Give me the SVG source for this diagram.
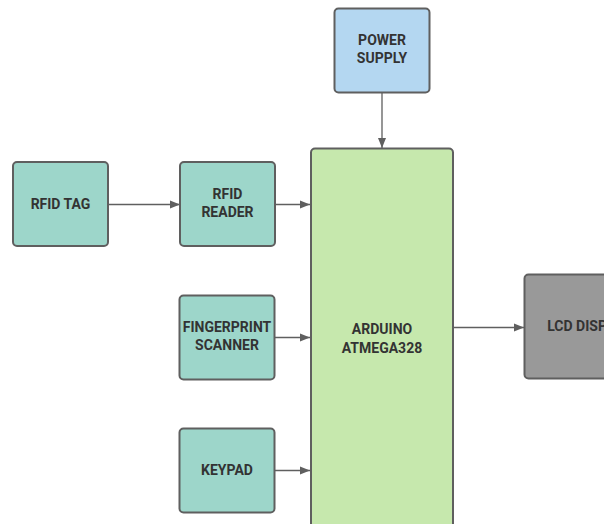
<svg xmlns="http://www.w3.org/2000/svg" width="604" height="524" viewBox="0 0 604 524">
<style>
.n{stroke:#5f5f5f;stroke-width:2}
.teal{fill:#9dd6ca}
.blue{fill:#b4d7f1}
.green{fill:#c6e8ad}
.gray{fill:#999999}
.t{font-family:Roboto,"Liberation Sans",Arial,sans-serif;font-weight:bold;font-size:14px;fill:#333333;text-anchor:middle}
.c{stroke:#5f5f5f;stroke-width:1.3;fill:none;marker-end:url(#ah)}
</style>
<defs>
<marker id="ah" viewBox="0 0 10 10" refX="10" refY="5" markerWidth="10" markerHeight="10" markerUnits="userSpaceOnUse" orient="auto">
<path d="M0,1 L10,5 L0,9 Z" fill="#5f5f5f"/>
</marker>
</defs>
<rect width="604" height="524" fill="#ffffff"/>
<g id="connectors">
<path class="c" d="M108,204.5 H180"/>
<path class="c" d="M275,204.5 H310"/>
<path class="c" d="M275,337.5 H310"/>
<path class="c" d="M275,470.5 H310"/>
<path class="c" d="M382,92 V148"/>
<path class="c" d="M453,327.5 H524"/>
</g>
<g id="rfid-tag">
<rect class="n teal" x="13" y="162" width="95" height="84" rx="4"/>
<text class="t" x="60.5" y="208.5">RFID TAG</text>
</g>
<g id="rfid-reader">
<rect class="n teal" x="180" y="162" width="95" height="84" rx="4"/>
<text class="t" x="227.5" y="198.5">RFID</text>
<text class="t" x="227.5" y="217">READER</text>
</g>
<g id="fingerprint-scanner">
<rect class="n teal" x="179.5" y="295.5" width="95" height="84" rx="4"/>
<text class="t" x="227" y="331.5">FINGERPRINT</text>
<text class="t" x="227" y="350">SCANNER</text>
</g>
<g id="keypad">
<rect class="n teal" x="179.5" y="428.5" width="95" height="84" rx="4"/>
<text class="t" x="227" y="475">KEYPAD</text>
</g>
<g id="power-supply">
<rect class="n blue" x="334.5" y="8.5" width="95" height="84" rx="4"/>
<text class="t" x="382" y="44.5">POWER</text>
<text class="t" x="382" y="62.5">SUPPLY</text>
</g>
<g id="arduino">
<rect class="n green" x="311" y="148.5" width="142" height="390" rx="4"/>
<text class="t" x="382" y="334">ARDUINO</text>
<text class="t" x="382" y="352.5">ATMEGA328</text>
</g>
<g id="lcd-display">
<rect class="n gray" x="524.5" y="274.5" width="133" height="104" rx="4"/>
<text class="t" x="589.5" y="331">LCD DISPLAY</text>
</g>
</svg>
